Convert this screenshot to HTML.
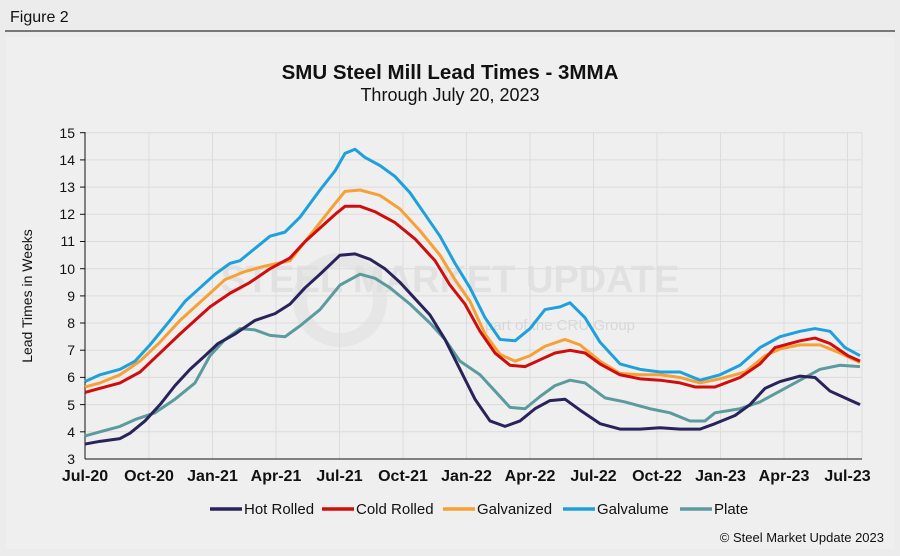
<!DOCTYPE html>
<html><head><meta charset="utf-8"><style>
body{margin:0;background:#ececec;}
svg{display:block;font-family:"Liberation Sans",Arial,sans-serif;}
</style></head><body>
<svg width="900" height="556" viewBox="0 0 900 556">
<rect width="900" height="556" fill="#ececec"/>
<rect x="6" y="37" width="888" height="512" fill="#efefef"/>
<text x="10" y="22" font-size="16" fill="#111">Figure 2</text>
<line x1="5" y1="31" x2="895" y2="31" stroke="#333" stroke-width="1.2"/>
<text x="450" y="79" font-size="20.5" font-weight="bold" text-anchor="middle" fill="#111">SMU Steel Mill Lead Times - 3MMA</text>
<text x="450" y="101" font-size="18" text-anchor="middle" fill="#111">Through July 20, 2023</text>
<!-- grid -->
<g stroke="#dcdcdc" stroke-width="1">
<line x1="85" y1="132.7" x2="862" y2="132.7"/><line x1="85" y1="159.9" x2="862" y2="159.9"/><line x1="85" y1="187.1" x2="862" y2="187.1"/><line x1="85" y1="214.3" x2="862" y2="214.3"/><line x1="85" y1="241.5" x2="862" y2="241.5"/><line x1="85" y1="268.7" x2="862" y2="268.7"/><line x1="85" y1="295.9" x2="862" y2="295.9"/><line x1="85" y1="323" x2="862" y2="323"/><line x1="85" y1="350.2" x2="862" y2="350.2"/><line x1="85" y1="377.4" x2="862" y2="377.4"/><line x1="85" y1="404.6" x2="862" y2="404.6"/><line x1="85" y1="431.8" x2="862" y2="431.8"/>
<line x1="149" y1="132" x2="149" y2="459"/><line x1="212.5" y1="132" x2="212.5" y2="459"/><line x1="276" y1="132" x2="276" y2="459"/><line x1="339.5" y1="132" x2="339.5" y2="459"/><line x1="403" y1="132" x2="403" y2="459"/><line x1="466.5" y1="132" x2="466.5" y2="459"/><line x1="530" y1="132" x2="530" y2="459"/><line x1="593.5" y1="132" x2="593.5" y2="459"/><line x1="657" y1="132" x2="657" y2="459"/><line x1="720.5" y1="132" x2="720.5" y2="459"/><line x1="784" y1="132" x2="784" y2="459"/><line x1="847.5" y1="132" x2="847.5" y2="459"/><line x1="862" y1="132" x2="862" y2="459"/>
</g>
<!-- watermark -->
<text x="450" y="292" font-size="38" font-weight="bold" text-anchor="middle" fill="#dedede" opacity="0.8">STEEL MARKET UPDATE</text>
<text x="560" y="330" font-size="15" text-anchor="middle" fill="#d8d8d8">part of the CRU Group</text>
<circle cx="340" cy="300" r="40" fill="none" stroke="#e0e0e0" stroke-width="14" opacity="0.6"/>
<!-- axes -->
<line x1="85" y1="132" x2="85" y2="459" stroke="#111"/>
<line x1="85" y1="459" x2="862" y2="459" stroke="#111"/>
<g stroke="#111"><line x1="80" y1="132.7" x2="85" y2="132.7"/><line x1="80" y1="159.9" x2="85" y2="159.9"/><line x1="80" y1="187.1" x2="85" y2="187.1"/><line x1="80" y1="214.3" x2="85" y2="214.3"/><line x1="80" y1="241.5" x2="85" y2="241.5"/><line x1="80" y1="268.7" x2="85" y2="268.7"/><line x1="80" y1="295.9" x2="85" y2="295.9"/><line x1="80" y1="323" x2="85" y2="323"/><line x1="80" y1="350.2" x2="85" y2="350.2"/><line x1="80" y1="377.4" x2="85" y2="377.4"/><line x1="80" y1="404.6" x2="85" y2="404.6"/><line x1="80" y1="431.8" x2="85" y2="431.8"/></g>
<g font-size="14" text-anchor="end" fill="#111">
<text x="75" y="138">15</text><text x="75" y="165">14</text><text x="75" y="192">13</text><text x="75" y="219">12</text><text x="75" y="246">11</text><text x="75" y="274">10</text><text x="75" y="301">9</text><text x="75" y="328">8</text><text x="75" y="355">7</text><text x="75" y="382">6</text><text x="75" y="410">5</text><text x="75" y="437">4</text><text x="75" y="464">3</text>
</g>
<text transform="translate(32,296) rotate(-90)" font-size="14" text-anchor="middle" fill="#111">Lead Times in Weeks</text>
<g font-size="16" font-weight="bold" text-anchor="middle" fill="#111">
<text x="85" y="481">Jul-20</text><text x="149" y="481">Oct-20</text><text x="212.5" y="481">Jan-21</text><text x="276" y="481">Apr-21</text><text x="339.5" y="481">Jul-21</text><text x="403" y="481">Oct-21</text><text x="466.5" y="481">Jan-22</text><text x="530" y="481">Apr-22</text><text x="593.5" y="481">Jul-22</text><text x="657" y="481">Oct-22</text><text x="720.5" y="481">Jan-23</text><text x="784" y="481">Apr-23</text><text x="847.5" y="481">Jul-23</text>
</g>
<!-- series -->
<g transform="translate(0,540.5) scale(1,-27.17)" fill="none" stroke-width="3" stroke-linejoin="round">
<polyline vector-effect="non-scaling-stroke" stroke="#5b9b9e" points="85,3.85 100,4.0 120,4.2 135,4.45 155,4.7 175,5.2 195,5.8 210,6.8 225,7.4 240,7.8 255,7.75 270,7.55 285,7.5 300,7.9 320,8.5 340,9.4 360,9.8 375,9.65 390,9.3 410,8.7 430,8.0 445,7.4 460,6.6 480,6.1 495,5.5 510,4.9 525,4.85 540,5.3 555,5.7 570,5.9 585,5.8 605,5.25 625,5.1 650,4.85 670,4.7 690,4.4 705,4.4 715,4.7 740,4.85 760,5.1 780,5.5 800,5.9 820,6.3 840,6.45 860,6.4"/>
<polyline vector-effect="non-scaling-stroke" stroke="#29235c" points="85,3.55 100,3.65 120,3.75 130,3.95 145,4.4 160,5.0 175,5.7 190,6.3 205,6.8 218,7.25 235,7.6 255,8.1 275,8.35 290,8.7 305,9.3 320,9.8 340,10.5 355,10.55 370,10.35 385,10.0 400,9.5 415,8.9 430,8.3 445,7.4 460,6.3 475,5.2 490,4.4 505,4.2 520,4.4 535,4.85 550,5.15 565,5.2 580,4.8 600,4.3 620,4.1 640,4.1 660,4.15 680,4.1 700,4.1 715,4.3 735,4.6 750,5.0 765,5.6 780,5.85 800,6.05 815,6.0 830,5.5 848,5.2 860,5.0"/>
<polyline vector-effect="non-scaling-stroke" stroke="#1ea0dc" points="85,5.85 100,6.1 120,6.3 135,6.6 150,7.2 170,8.1 185,8.8 200,9.3 215,9.8 230,10.2 240,10.3 255,10.75 270,11.2 285,11.35 300,11.9 320,12.9 335,13.6 345,14.25 355,14.4 365,14.1 380,13.8 395,13.4 410,12.8 425,12.0 440,11.2 455,10.2 470,9.3 485,8.2 500,7.4 515,7.35 530,7.8 545,8.5 560,8.6 570,8.75 585,8.2 600,7.3 620,6.5 640,6.3 660,6.2 680,6.2 700,5.9 720,6.1 740,6.45 760,7.1 780,7.5 800,7.7 815,7.8 830,7.7 845,7.1 860,6.8"/>
<polyline vector-effect="non-scaling-stroke" stroke="#f7a035" points="85,5.65 100,5.8 120,6.1 140,6.6 160,7.3 180,8.1 195,8.6 210,9.1 225,9.6 245,9.9 265,10.1 290,10.3 305,11.0 320,11.7 335,12.4 345,12.85 360,12.9 380,12.7 400,12.2 420,11.4 440,10.5 455,9.6 470,8.8 485,7.6 500,6.85 515,6.6 530,6.8 545,7.15 565,7.4 580,7.2 600,6.6 620,6.15 640,6.1 660,6.1 680,6.0 700,5.8 720,5.95 745,6.2 765,6.8 780,7.05 800,7.2 820,7.2 840,6.9 860,6.55"/>
<polyline vector-effect="non-scaling-stroke" stroke="#d00d0d" points="85,5.45 100,5.6 120,5.8 140,6.2 160,6.9 180,7.6 195,8.1 210,8.6 230,9.1 250,9.5 270,10.0 290,10.4 305,11.0 320,11.5 335,12.0 345,12.3 360,12.3 375,12.1 395,11.7 415,11.1 435,10.3 450,9.4 465,8.7 480,7.7 495,6.9 510,6.45 525,6.4 540,6.65 555,6.9 570,7.0 585,6.9 600,6.5 620,6.1 640,5.95 660,5.9 680,5.8 695,5.65 715,5.65 740,6.0 760,6.5 775,7.1 800,7.35 815,7.45 830,7.25 848,6.8 860,6.6"/>
</g>
<!-- legend -->
<g font-size="15" fill="#111" stroke-width="3.5">
<line x1="210" y1="509" x2="242" y2="509" stroke="#29235c"/><text x="244" y="514">Hot Rolled</text>
<line x1="322" y1="509" x2="354" y2="509" stroke="#d00d0d"/><text x="356" y="514">Cold Rolled</text>
<line x1="443" y1="509" x2="475" y2="509" stroke="#f7a035"/><text x="477" y="514">Galvanized</text>
<line x1="563" y1="509" x2="595" y2="509" stroke="#1ea0dc"/><text x="597" y="514">Galvalume</text>
<line x1="680" y1="509" x2="712" y2="509" stroke="#5b9b9e"/><text x="714" y="514">Plate</text>
</g>
<text x="884" y="542" font-size="13" text-anchor="end" fill="#111">© Steel Market Update 2023</text>
</svg>
</body></html>
